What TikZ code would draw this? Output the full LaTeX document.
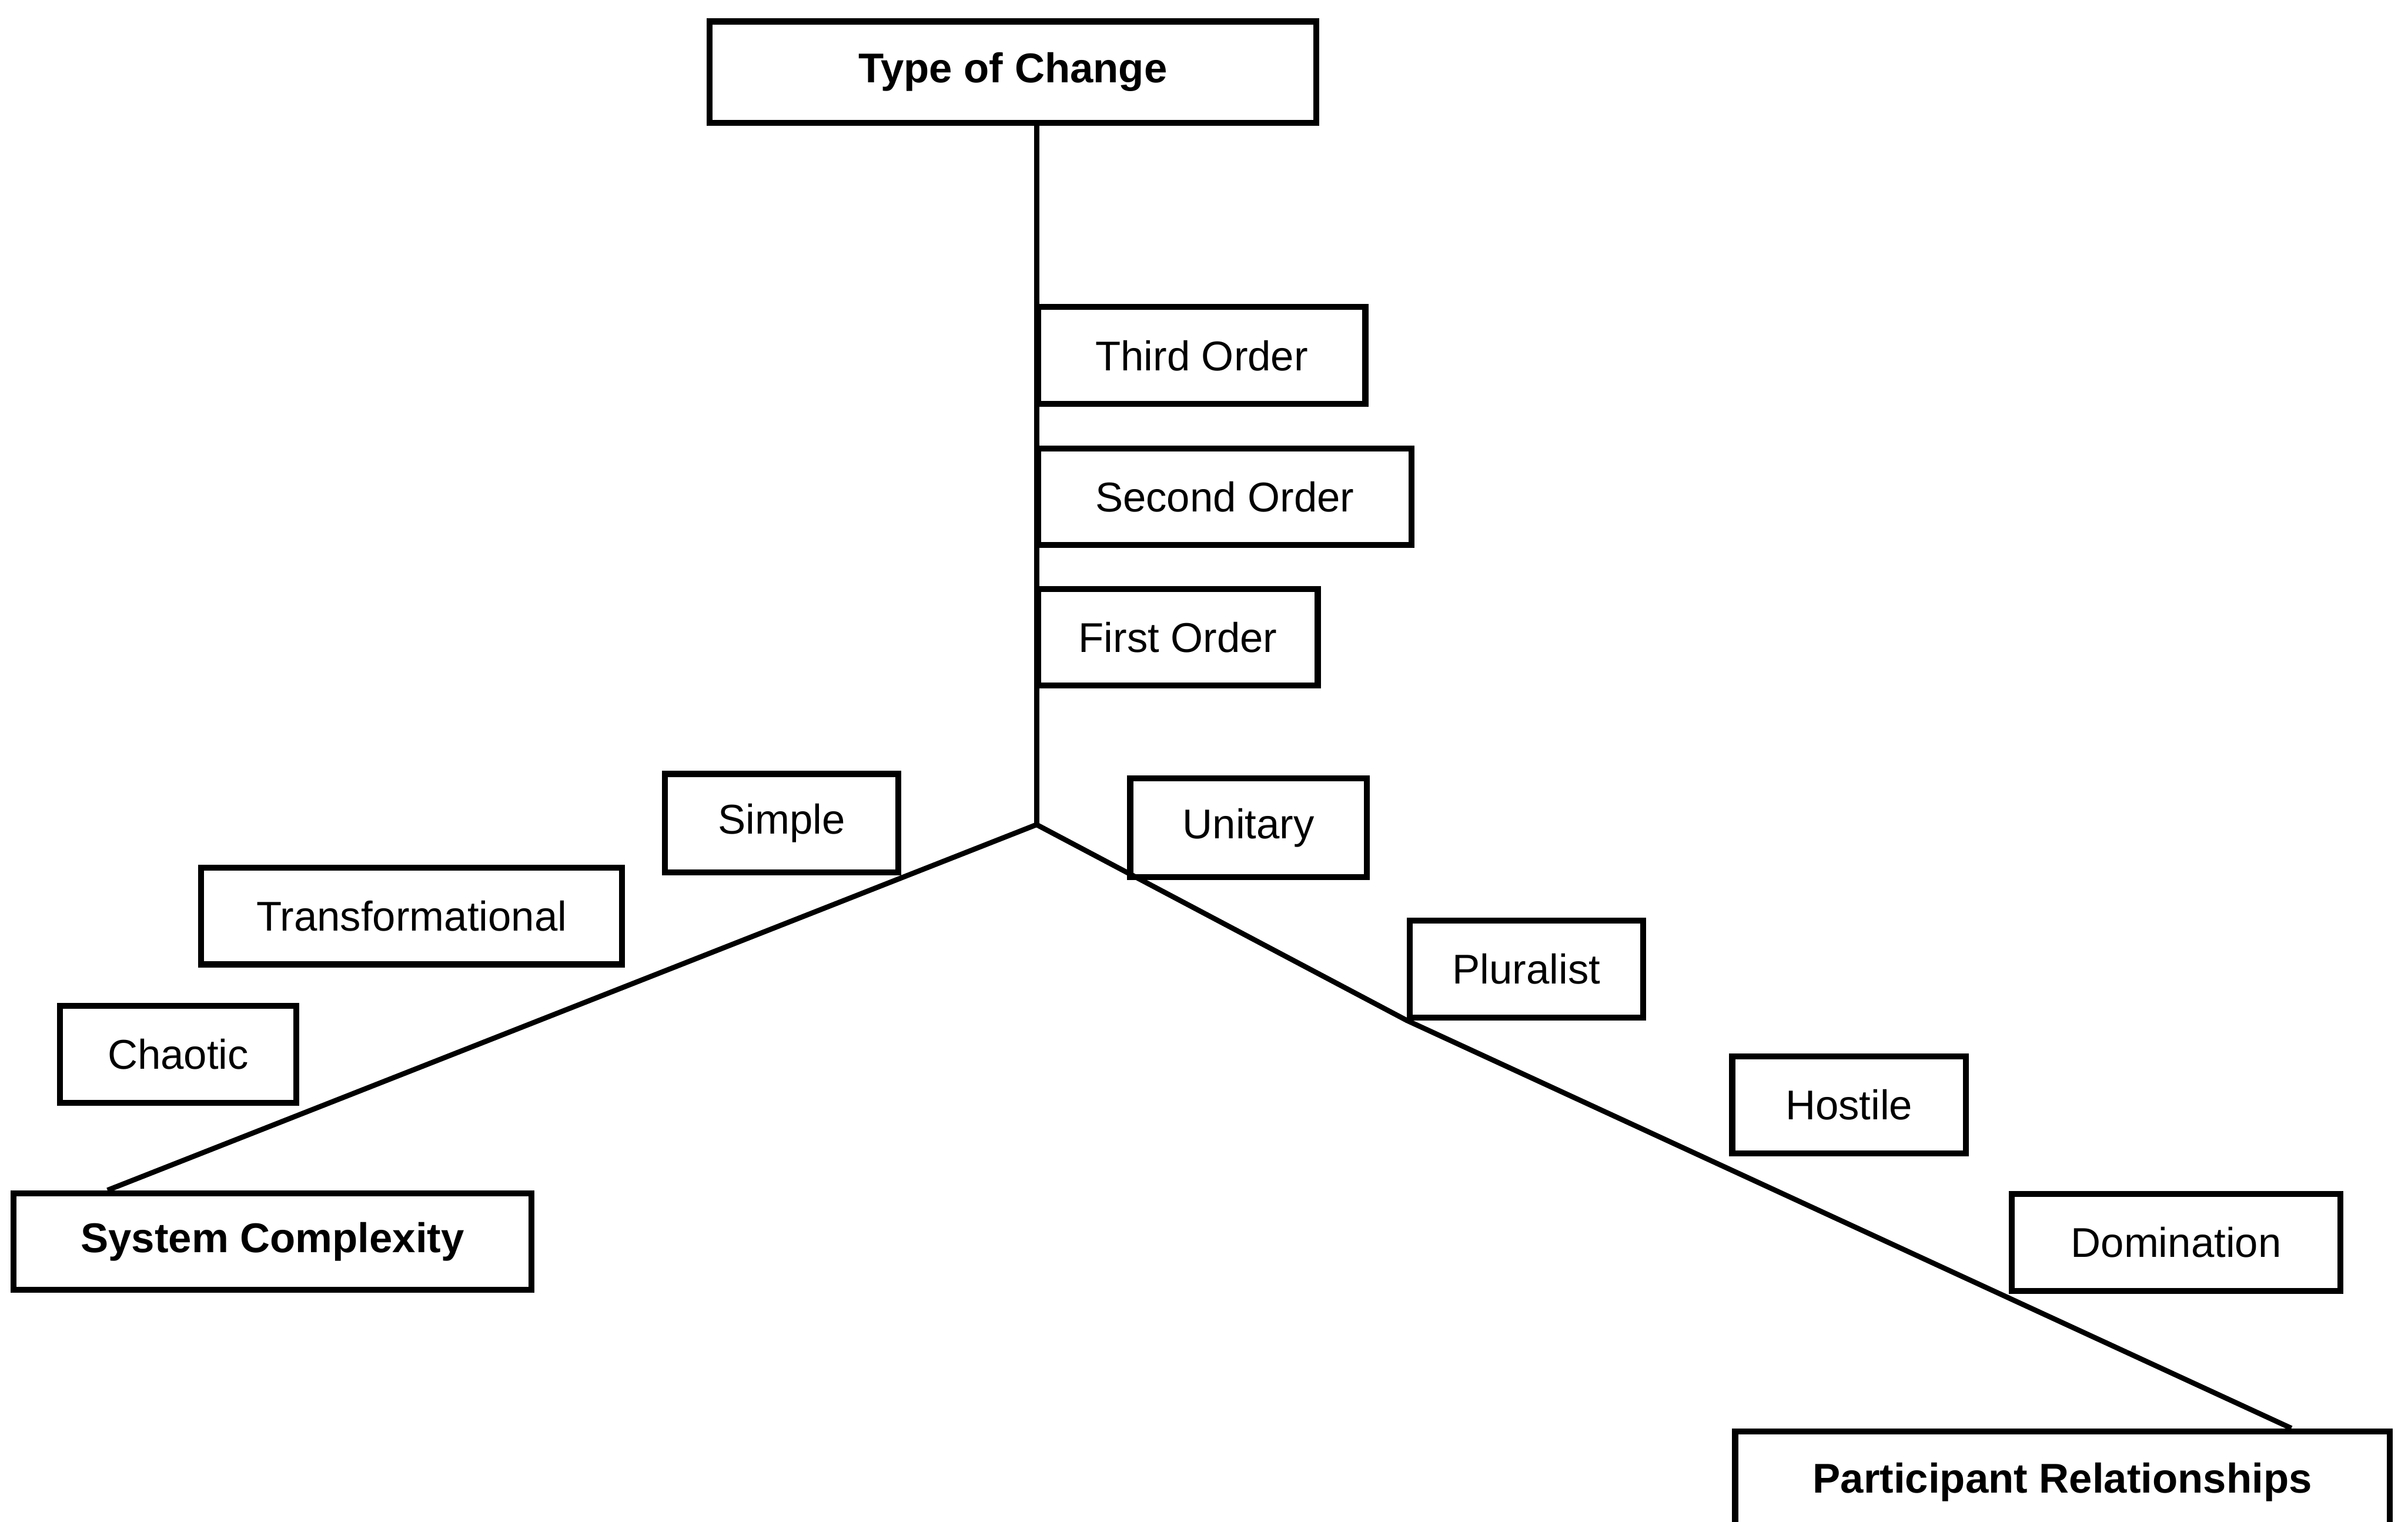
\documentclass[tikz,border=0pt]{standalone}
\usepackage{fontspec}
\setmainfont{Liberation Sans}
\usepackage{tikz}
\usetikzlibrary{positioning,calc}

\begin{document}
\begin{tikzpicture}[x=0.01cm,y=-0.01cm,
	box/.style={draw,line width=1.1pt,minimum height=0.63cm,inner sep=0pt,font=\fontsize{7.7}{9}\selectfont},
	axis/.style={box,font=\fontsize{7.7}{9}\selectfont\bfseries},
	ax/.style={line width=0.95pt}]
	\useasboundingbox (0,0) rectangle (1568,991);
	\coordinate (o) at (675,537);
	% type of change
	\node[axis,minimum width=3.95cm,minimum height=0.66cm] (toc) at (659.5,47) {Type of Change};
	\node[box,minimum width=2.13cm] (o3) at (782.5,231.5) {Third Order};
	\node[box,minimum width=2.43cm] (o2) at (797.5,323.5) {Second Order};
	\node[box,minimum width=1.82cm] (o1) at (767,415) {First Order};
	% participant relationships
	\node[box,minimum width=1.54cm,minimum height=0.64cm] (pu) at (813,539) {Unitary};
	\node[box,minimum width=1.52cm] (pp) at (994,631) {Pluralist};
	\node[box,minimum width=1.52cm] (ph) at (1204,719.5) {Hostile};
	\node[box,minimum width=2.14cm] (pd) at (1417,809) {Domination};
	\node[axis,minimum width=4.26cm,minimum height=0.66cm] (pr) at (1343,965) {Participant Relationships};
	% system complexity
	\node[box,minimum width=1.52cm,minimum height=0.64cm] (cs) at (509,536) {Simple};
	\node[box,minimum width=2.74cm] (ct) at (268,596.5) {Transformational};
	\node[box,minimum width=1.54cm] (cc) at (116,686.5) {Chaotic};
	\node[axis,minimum width=3.37cm] (sc) at (177.5,808.5) {System Complexity};

	\draw[ax] (o) -- (o |- toc.south);
	\draw[ax] (o) -- ([xshift=0.63cm]sc.north west);
	\draw[ax] (o) -- (pp.south west) -- ([xshift=-0.66cm]pr.north east);
\end{tikzpicture}
\end{document}
